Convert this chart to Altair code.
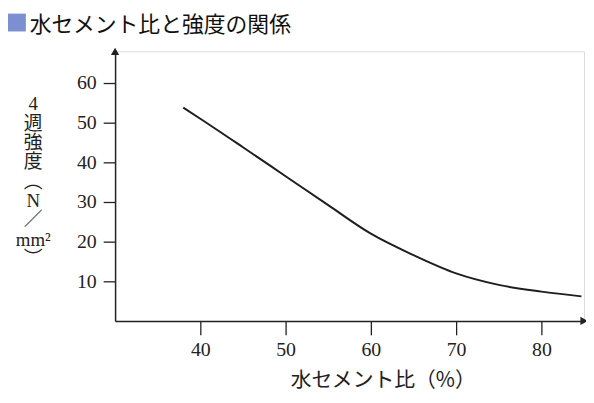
import altair as alt
import pandas as pd

# ---- data ----
wc_ratio = [38, 40, 45, 50, 55, 60, 65, 70, 75, 80, 84.7]
strength = [53.8, 51.0, 43.8, 36.5, 29.2, 22.0, 16.6, 12.0, 9.1, 7.4, 6.2]
x_ticks = [40, 50, 60, 70, 80]
y_ticks = [10, 20, 30, 40, 50, 60]
x_domain = [30, 85]
y_domain = [0, 68]
chart_title = "水セメント比と強度の関係"
x_title = "水セメント比（%）"
y_title_lines = ["4", "週", "強", "度", "︵", "N", "／", "mm²", "︶"]

df = pd.DataFrame({"wc": wc_ratio, "s": strength})

SERIF = "Liberation Serif, Noto Sans CJK JP"
SANS = "Noto Sans CJK JP"
W, H = 473, 272

x_scale = alt.Scale(domain=x_domain, nice=False, zero=False)
y_scale = alt.Scale(domain=y_domain, nice=False)

line = alt.Chart(df).mark_line(
    color="#1e1e1e", strokeWidth=2, interpolate="monotone"
).encode(
    x=alt.X("wc:Q", scale=x_scale, axis=alt.Axis(
        values=x_ticks, grid=False, tickSize=14, tickColor="#222", tickWidth=1.3,
        domainColor="#222", domainWidth=1.5, labelFont=SERIF, labelFontSize=20,
        labelColor="#222", labelPadding=5, labelFlush=False,
        title=x_title, titleFont=SANS, titleFontSize=21, titleFontWeight="normal",
        titleColor="#222", titleX=270, titleY=60, titleAlign="center",
        titleBaseline="middle")),
    y=alt.Y("s:Q", scale=y_scale, axis=alt.Axis(
        values=y_ticks, grid=False, tickSize=12, tickColor="#222", tickWidth=1.3,
        domainColor="#222", domainWidth=1.5, labelFont=SERIF, labelFontSize=20,
        labelColor="#222", labelPadding=7,
        title=y_title_lines, titleAngle=0, titleFont=SERIF, titleFontSize=19,
        titleFontWeight="normal", titleColor="#222", titleAlign="center",
        titleBaseline="top", titleX=-83, titleY=44, titleLineHeight=19.5)),
)

arrow_df = pd.DataFrame({"x": [x_domain[1], x_domain[0]], "y": [y_domain[0], y_domain[1]],
                         "shape": ["triangle-right", "triangle-up"]})
arrows = alt.Chart(arrow_df).mark_point(filled=True, color="#222", opacity=1, size=70).encode(
    x=alt.X("x:Q", scale=x_scale),
    y=alt.Y("y:Q", scale=y_scale),
    shape=alt.Shape("shape:N", scale=None),
)

title_df = pd.DataFrame({"t": [chart_title]})
title = alt.Chart(title_df).mark_text(
    align="left", baseline="middle", font=SANS, fontSize=22, color="#111"
).encode(text="t:N", x=alt.value(-86), y=alt.value(-26))

square = alt.Chart(title_df).mark_square(
    size=324, color="#7b8fd1", opacity=1, filled=True
).encode(x=alt.value(-99), y=alt.value(-29))

chart = alt.layer(line, arrows, title, square).properties(
    width=W, height=H,
    autosize=alt.AutoSizeParams(type="none"),
    padding={"left": 108, "top": 42, "right": 2, "bottom": 73},
).configure_view(stroke=None).configure(background="white")

chart.save("out.html", embed_options={"renderer": "svg", "actions": False})
